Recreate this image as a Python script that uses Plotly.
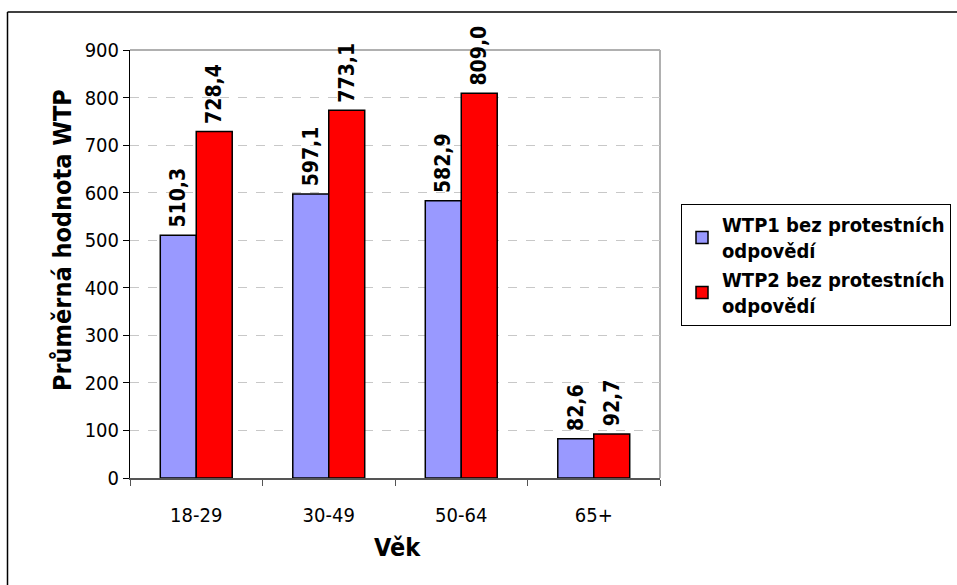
import plotly.graph_objects as go

categories = ["18-29", "30-49", "50-64", "65+"]
wtp1 = [510.3, 597.1, 582.9, 82.6]
wtp2 = [728.4, 773.1, 809.0, 92.7]
series_names = ["WTP1 bez protestních<br>odpovědí", "WTP2 bez protestních<br>odpovědí"]
y_ticks = [0, 100, 200, 300, 400, 500, 600, 700, 800, 900]

def fmt(v):
    return "\u2005" + f"{v:.1f}".replace(".", ",")

FONT = "DejaVu Sans Condensed, DejaVu Sans, sans-serif"

fig = go.Figure()
for vals, name, color in [(wtp1, series_names[0], "#9999FF"), (wtp2, series_names[1], "#FF0000")]:
    fig.add_trace(go.Bar(
        x=categories, y=vals, name=name,
        marker=dict(color=color, line=dict(color="black", width=1.5)),
        text=[fmt(v) for v in vals], textposition="outside", textangle=-90,
        constraintext="none",
        textfont=dict(family=FONT, size=21, color="black", weight="bold"),
        cliponaxis=False,
    ))

L, R, T, B = 130, 660, 50, 478
W, H = R - L, B - T

def px(x):
    return (x - L) / W

def py(y):
    return (B - y) / H

fig.update_layout(
    width=957, height=585,
    margin=dict(l=L, r=957 - R, t=T, b=585 - B, autoexpand=False),
    paper_bgcolor="white", plot_bgcolor="white",
    barmode="group", bargap=0.457, bargroupgap=0,
    font=dict(family=FONT, size=20, color="black"),
    legend=dict(
        x=px(681), y=py(204), xanchor="left", yanchor="top",
        bordercolor="black", borderwidth=1, bgcolor="white",
        font=dict(family=FONT, size=20, color="black", weight="bold"),
        tracegroupgap=0, itemwidth=30,
    ),
    xaxis=dict(
        showline=True, linecolor="#555555", linewidth=1.5,
        ticks="outside", ticklen=6, tickcolor="#555555", tickson="boundaries",
        tickfont=dict(size=20), automargin=False, ticklabelstandoff=18,
        showgrid=False,
    ),
    yaxis=dict(
        range=[0, 900], tickvals=y_ticks,
        showline=True, linecolor="black", linewidth=1,
        ticks="outside", ticklen=6, tickcolor="black",
        tickfont=dict(size=20), automargin=False,
        showgrid=True, gridcolor="#C8C8C8", griddash="dash", gridwidth=1,
        zeroline=False,
    ),
    annotations=[
        dict(text="<b>Věk</b>", xref="paper", yref="paper", x=px(397), y=py(547),
             xanchor="center", yanchor="middle", showarrow=False, font=dict(size=25)),
        dict(text="<b>Průměrná hodnota WTP</b>", xref="paper", yref="paper", x=px(62), y=py(240),
             xanchor="center", yanchor="middle", textangle=-90, showarrow=False, font=dict(size=25)),
    ],
    shapes=[
        dict(type="line", xref="paper", yref="paper", x0=px(7.5), x1=px(960), y0=py(12), y1=py(12),
             line=dict(color="black", width=1.5), layer="below"),
        dict(type="line", xref="paper", yref="paper", x0=px(7.5), x1=px(7.5), y0=py(12), y1=py(590),
             line=dict(color="black", width=1.5), layer="below"),
        dict(type="line", xref="paper", yref="paper", x0=0, x1=1, y0=1, y1=1,
             line=dict(color="#B0B0B0", width=2), layer="below"),
        dict(type="line", xref="paper", yref="paper", x0=1, x1=1, y0=0, y1=1,
             line=dict(color="#B0B0B0", width=2), layer="below"),
    ],
)

fig.write_html("out.html", config={"displayModeBar": False},
               post_script="document.body.style.margin='0';document.body.style.overflow='hidden';")
